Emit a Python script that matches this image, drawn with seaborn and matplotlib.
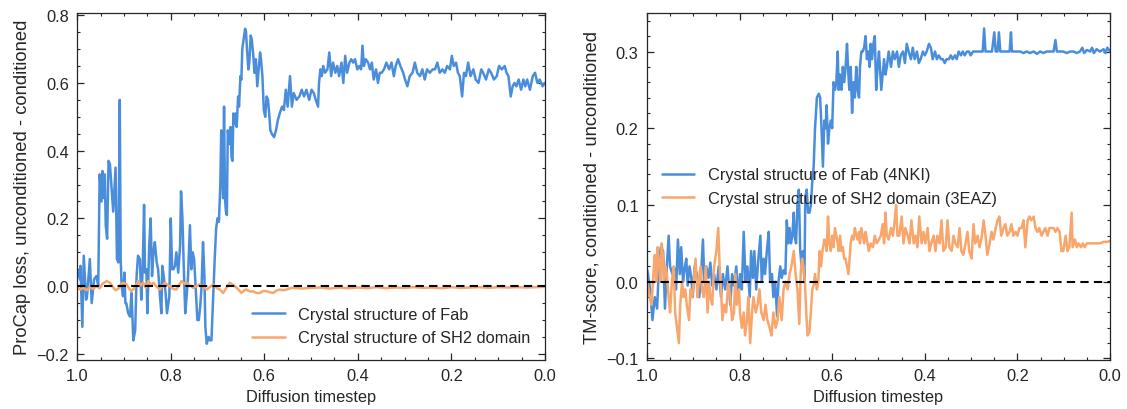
import matplotlib
matplotlib.use("Agg")
import matplotlib.pyplot as plt
import seaborn as sns
from matplotlib.ticker import MultipleLocator

# (diffusion timestep, value) pairs

# left panel: ProCap loss, unconditioned - conditioned
fab_loss = [
    (1.000, 0.05), (0.994, 0.02), (0.993, 0.06), (0.989, -0.12), (0.986, 0.09), (0.981, -0.04),
    (0.979, -0.03), (0.973, 0.08), (0.969, -0.05), (0.964, 0.02), (0.959, 0.03), (0.955, 0.0),
    (0.952, 0.33), (0.948, 0.25), (0.946, 0.34), (0.943, 0.26), (0.941, 0.33), (0.939, 0.18),
    (0.936, 0.14), (0.933, 0.37), (0.930, 0.36), (0.927, 0.30), (0.923, 0.22), (0.920, 0.30),
    (0.918, 0.35), (0.915, 0.08), (0.912, 0.07), (0.909, 0.55), (0.907, 0.08), (0.905, 0.0),
    (0.902, -0.03), (0.899, 0.04), (0.897, -0.05), (0.895, -0.05), (0.891, -0.08), (0.887, -0.09),
    (0.884, -0.02), (0.880, -0.16), (0.876, -0.13), (0.873, 0.03), (0.870, 0.09), (0.866, 0.08),
    (0.863, -0.04), (0.860, 0.05), (0.857, 0.24), (0.855, 0.04), (0.852, 0.05), (0.850, -0.08),
    (0.846, 0.12), (0.843, 0.20), (0.840, 0.03), (0.837, 0.10), (0.834, 0.13), (0.830, 0.07),
    (0.827, 0.05), (0.823, -0.03), (0.820, -0.08), (0.818, 0.06), (0.815, 0.03), (0.811, -0.02),
    (0.808, -0.08), (0.803, -0.03), (0.800, 0.20), (0.797, 0.05), (0.794, 0.05), (0.791, 0.06),
    (0.788, 0.10), (0.784, 0.04), (0.780, 0.12), (0.778, 0.28), (0.775, 0.20), (0.772, 0.05),
    (0.769, -0.08), (0.766, -0.03), (0.763, 0.03), (0.759, 0.18), (0.756, 0.05), (0.753, 0.10),
    (0.750, 0.08), (0.746, -0.02), (0.743, -0.10), (0.740, -0.10), (0.737, -0.06), (0.734, 0.0),
    (0.731, 0.13), (0.728, 0.03), (0.726, -0.12), (0.723, -0.17), (0.719, -0.15), (0.716, -0.16),
    (0.713, -0.16), (0.709, -0.02), (0.706, 0.08), (0.703, 0.17), (0.700, 0.20), (0.697, 0.19),
    (0.694, 0.30), (0.692, 0.46), (0.690, 0.34), (0.688, 0.26), (0.686, 0.53), (0.684, 0.26),
    (0.682, 0.22), (0.680, 0.21), (0.678, 0.46), (0.675, 0.42), (0.672, 0.47), (0.670, 0.38),
    (0.668, 0.37), (0.666, 0.51), (0.663, 0.48), (0.661, 0.51), (0.659, 0.47), (0.656, 0.56),
    (0.654, 0.53), (0.651, 0.62), (0.649, 0.61), (0.647, 0.70), (0.644, 0.73), (0.641, 0.76),
    (0.639, 0.75), (0.637, 0.70), (0.634, 0.64), (0.632, 0.66), (0.629, 0.74), (0.627, 0.73),
    (0.624, 0.69), (0.621, 0.63), (0.618, 0.67), (0.615, 0.59), (0.612, 0.64), (0.609, 0.69),
    (0.607, 0.67), (0.604, 0.62), (0.601, 0.52), (0.598, 0.50), (0.595, 0.56), (0.592, 0.55),
    (0.589, 0.50), (0.587, 0.46), (0.584, 0.45), (0.579, 0.44), (0.575, 0.46), (0.571, 0.49),
    (0.567, 0.51), (0.562, 0.53), (0.558, 0.52), (0.554, 0.58), (0.550, 0.53), (0.545, 0.62),
    (0.541, 0.53), (0.537, 0.57), (0.531, 0.55), (0.525, 0.56), (0.520, 0.58), (0.515, 0.56),
    (0.510, 0.58), (0.504, 0.55), (0.499, 0.58), (0.494, 0.57), (0.490, 0.55), (0.485, 0.53),
    (0.483, 0.60), (0.480, 0.64), (0.477, 0.62), (0.474, 0.65), (0.470, 0.63), (0.465, 0.64),
    (0.461, 0.69), (0.457, 0.62), (0.453, 0.66), (0.448, 0.63), (0.444, 0.65), (0.440, 0.62),
    (0.435, 0.66), (0.431, 0.60), (0.427, 0.68), (0.423, 0.63), (0.418, 0.66), (0.414, 0.67),
    (0.410, 0.66), (0.406, 0.67), (0.401, 0.64), (0.397, 0.65), (0.393, 0.64), (0.390, 0.71),
    (0.387, 0.65), (0.383, 0.67), (0.378, 0.66), (0.374, 0.64), (0.370, 0.66), (0.366, 0.61),
    (0.361, 0.64), (0.357, 0.60), (0.353, 0.63), (0.349, 0.63), (0.344, 0.64), (0.339, 0.66),
    (0.333, 0.64), (0.328, 0.66), (0.323, 0.62), (0.319, 0.65), (0.314, 0.67), (0.309, 0.65),
    (0.303, 0.63), (0.299, 0.61), (0.294, 0.59), (0.289, 0.62), (0.283, 0.63), (0.278, 0.66),
    (0.273, 0.63), (0.267, 0.62), (0.262, 0.64), (0.257, 0.61), (0.252, 0.64), (0.246, 0.63),
    (0.240, 0.64), (0.235, 0.64), (0.230, 0.66), (0.225, 0.63), (0.219, 0.64), (0.214, 0.63),
    (0.209, 0.65), (0.203, 0.64), (0.199, 0.68), (0.195, 0.65), (0.190, 0.66), (0.186, 0.63),
    (0.182, 0.62), (0.177, 0.56), (0.173, 0.63), (0.169, 0.62), (0.164, 0.66), (0.159, 0.62),
    (0.153, 0.64), (0.148, 0.61), (0.142, 0.60), (0.136, 0.64), (0.132, 0.63), (0.126, 0.61),
    (0.120, 0.64), (0.115, 0.63), (0.109, 0.61), (0.103, 0.62), (0.098, 0.65), (0.092, 0.64),
    (0.086, 0.65), (0.082, 0.63), (0.078, 0.62), (0.073, 0.56), (0.069, 0.59), (0.065, 0.60),
    (0.061, 0.59), (0.056, 0.61), (0.051, 0.58), (0.046, 0.61), (0.042, 0.59), (0.038, 0.61),
    (0.032, 0.58), (0.026, 0.62), (0.021, 0.63), (0.016, 0.60), (0.011, 0.61), (0.005, 0.59),
    (0.000, 0.60),
]

sh2_loss = [
    (1.000, -0.005), (0.994, -0.01), (0.987, -0.005), (0.980, -0.012), (0.973, -0.003),
    (0.966, -0.008), (0.959, 0.0), (0.952, -0.006), (0.945, 0.008), (0.937, 0.015), (0.930, 0.01),
    (0.923, -0.004), (0.918, -0.012), (0.912, -0.008), (0.907, 0.005), (0.902, 0.01),
    (0.895, 0.006), (0.890, -0.005), (0.884, -0.015), (0.877, -0.004), (0.870, 0.015),
    (0.864, 0.002), (0.859, 0.01), (0.853, -0.005), (0.848, 0.015), (0.842, 0.004), (0.837, 0.01),
    (0.830, -0.002), (0.823, -0.01), (0.818, 0.0), (0.813, 0.01), (0.807, 0.003), (0.802, 0.0),
    (0.795, -0.008), (0.788, -0.01), (0.782, 0.004), (0.777, 0.015), (0.771, 0.008), (0.766, 0.01),
    (0.759, 0.002), (0.752, -0.005), (0.745, 0.0), (0.738, 0.005), (0.730, -0.003), (0.723, -0.01),
    (0.716, -0.002), (0.709, 0.005), (0.702, -0.005), (0.695, -0.01), (0.688, -0.02),
    (0.681, -0.005), (0.674, 0.01), (0.667, 0.004), (0.659, -0.005), (0.654, -0.012),
    (0.649, -0.02), (0.643, -0.012), (0.638, -0.01), (0.631, -0.016), (0.624, -0.015),
    (0.617, -0.02), (0.609, -0.02), (0.602, -0.014), (0.595, -0.015), (0.588, -0.018),
    (0.581, -0.02), (0.574, -0.013), (0.567, -0.01), (0.560, -0.012), (0.552, -0.01),
    (0.545, -0.006), (0.538, -0.005), (0.520, -0.007), (0.502, -0.005), (0.480, -0.004),
    (0.460, -0.007), (0.440, -0.004), (0.420, -0.006), (0.400, -0.004), (0.380, -0.006),
    (0.360, -0.003), (0.340, -0.006), (0.320, -0.004), (0.300, -0.005), (0.280, -0.003),
    (0.260, -0.005), (0.240, -0.004), (0.220, -0.006), (0.200, -0.003), (0.180, -0.005),
    (0.160, -0.004), (0.140, -0.003), (0.120, -0.005), (0.100, -0.003), (0.080, -0.004),
    (0.060, -0.003), (0.040, -0.004), (0.020, -0.003), (0.000, -0.002),
]

# right panel: TM-score, conditioned - unconditioned
fab_tm = [
    (0.999, 0.015), (0.993, -0.01), (0.988, -0.05), (0.983, -0.02), (0.978, -0.035), (0.974, 0.02),
    (0.970, 0.045), (0.965, 0.04), (0.961, -0.035), (0.957, 0.02), (0.953, 0.06), (0.950, 0.02),
    (0.945, 0.01), (0.941, 0.018), (0.937, -0.01), (0.933, 0.055), (0.929, 0.01), (0.926, 0.045),
    (0.922, 0.0), (0.919, 0.015), (0.915, 0.03), (0.912, -0.005), (0.908, 0.02), (0.904, 0.005),
    (0.901, -0.02), (0.897, 0.02), (0.892, 0.01), (0.887, -0.02), (0.883, 0.01), (0.879, 0.055),
    (0.876, 0.0), (0.872, 0.02), (0.867, 0.005), (0.863, 0.025), (0.859, -0.005), (0.855, 0.01),
    (0.850, -0.01), (0.845, 0.02), (0.840, -0.02), (0.836, 0.01), (0.831, -0.01), (0.826, 0.02),
    (0.820, -0.03), (0.816, 0.01), (0.812, -0.005), (0.807, 0.02), (0.803, -0.025), (0.799, 0.01),
    (0.795, -0.01), (0.791, 0.065), (0.787, 0.0), (0.783, 0.02), (0.778, -0.02), (0.775, 0.04),
    (0.771, 0.005), (0.768, 0.04), (0.764, -0.01), (0.760, 0.025), (0.755, 0.06), (0.752, 0.0),
    (0.748, 0.03), (0.745, 0.01), (0.741, 0.04), (0.737, 0.065), (0.734, 0.0), (0.730, 0.01),
    (0.727, -0.02), (0.723, 0.0), (0.719, -0.045), (0.716, 0.0), (0.712, 0.02), (0.709, 0.005),
    (0.705, 0.015), (0.701, 0.01), (0.698, 0.08), (0.695, 0.05), (0.692, 0.07), (0.689, 0.05),
    (0.686, 0.06), (0.683, 0.09), (0.681, 0.06), (0.678, 0.05), (0.675, 0.10), (0.672, 0.12),
    (0.669, 0.04), (0.666, 0.02), (0.663, 0.04), (0.660, 0.0), (0.658, 0.11), (0.655, 0.12),
    (0.652, 0.09), (0.649, 0.09), (0.646, 0.10), (0.643, 0.13), (0.640, 0.15), (0.637, 0.20),
    (0.633, 0.24), (0.629, 0.245), (0.626, 0.24), (0.623, 0.20), (0.620, 0.15), (0.617, 0.21),
    (0.614, 0.20), (0.612, 0.23), (0.609, 0.18), (0.606, 0.20), (0.603, 0.21), (0.600, 0.20),
    (0.597, 0.26), (0.594, 0.25), (0.591, 0.26), (0.588, 0.30), (0.586, 0.25), (0.583, 0.27),
    (0.580, 0.25), (0.577, 0.28), (0.574, 0.26), (0.571, 0.28), (0.568, 0.31), (0.565, 0.27),
    (0.563, 0.25), (0.560, 0.28), (0.557, 0.22), (0.554, 0.26), (0.551, 0.24), (0.548, 0.28),
    (0.545, 0.25), (0.542, 0.24), (0.540, 0.28), (0.537, 0.30), (0.534, 0.30), (0.531, 0.305),
    (0.528, 0.32), (0.525, 0.29), (0.522, 0.30), (0.519, 0.28), (0.517, 0.31), (0.514, 0.29),
    (0.511, 0.31), (0.508, 0.32), (0.505, 0.25), (0.502, 0.28), (0.499, 0.30), (0.496, 0.27),
    (0.494, 0.25), (0.491, 0.27), (0.488, 0.29), (0.485, 0.27), (0.482, 0.28), (0.478, 0.30),
    (0.473, 0.28), (0.469, 0.30), (0.465, 0.29), (0.460, 0.30), (0.456, 0.28), (0.452, 0.295),
    (0.447, 0.30), (0.443, 0.285), (0.439, 0.31), (0.435, 0.30), (0.430, 0.29), (0.426, 0.305),
    (0.422, 0.29), (0.417, 0.30), (0.413, 0.285), (0.409, 0.29), (0.404, 0.30), (0.400, 0.295),
    (0.396, 0.30), (0.391, 0.31), (0.387, 0.305), (0.383, 0.29), (0.378, 0.30), (0.374, 0.29),
    (0.370, 0.295), (0.365, 0.29), (0.361, 0.29), (0.357, 0.285), (0.353, 0.29), (0.348, 0.29),
    (0.344, 0.295), (0.340, 0.29), (0.335, 0.295), (0.331, 0.29), (0.327, 0.30), (0.322, 0.295),
    (0.318, 0.30), (0.314, 0.295), (0.309, 0.30), (0.305, 0.30), (0.301, 0.295), (0.296, 0.30),
    (0.292, 0.30), (0.288, 0.30), (0.283, 0.30), (0.279, 0.30), (0.275, 0.30), (0.272, 0.33),
    (0.269, 0.30), (0.266, 0.30), (0.263, 0.30), (0.259, 0.30), (0.255, 0.30), (0.250, 0.325),
    (0.247, 0.30), (0.243, 0.30), (0.240, 0.325), (0.237, 0.30), (0.230, 0.30), (0.223, 0.30),
    (0.217, 0.30), (0.214, 0.325), (0.212, 0.30), (0.201, 0.30), (0.194, 0.30), (0.187, 0.298),
    (0.180, 0.30), (0.173, 0.298), (0.165, 0.30), (0.158, 0.297), (0.151, 0.30), (0.144, 0.298),
    (0.137, 0.30), (0.129, 0.30), (0.122, 0.30), (0.118, 0.315), (0.115, 0.30), (0.108, 0.30),
    (0.101, 0.30), (0.094, 0.298), (0.086, 0.30), (0.079, 0.30), (0.072, 0.298), (0.065, 0.30),
    (0.060, 0.305), (0.056, 0.298), (0.050, 0.302), (0.043, 0.30), (0.039, 0.305), (0.035, 0.298),
    (0.029, 0.303), (0.022, 0.30), (0.014, 0.303), (0.010, 0.298), (0.006, 0.305), (0.000, 0.30),
]

sh2_tm = [
    (0.999, 0.0), (0.994, -0.02), (0.990, -0.03), (0.986, 0.01), (0.983, 0.035), (0.980, 0.0),
    (0.977, 0.045), (0.974, 0.025), (0.971, 0.0), (0.968, 0.05), (0.965, 0.03), (0.963, 0.0),
    (0.960, 0.02), (0.957, 0.01), (0.953, -0.02), (0.950, -0.04), (0.946, 0.0), (0.942, 0.02),
    (0.939, -0.04), (0.935, -0.06), (0.931, -0.08), (0.928, -0.03), (0.924, 0.0), (0.921, -0.02),
    (0.917, -0.01), (0.914, -0.03), (0.909, -0.05), (0.906, -0.01), (0.902, -0.02), (0.899, 0.0),
    (0.895, 0.03), (0.891, -0.02), (0.888, 0.0), (0.884, 0.02), (0.881, -0.01), (0.877, -0.02),
    (0.873, 0.02), (0.869, -0.04), (0.866, 0.0), (0.863, -0.02), (0.859, -0.03), (0.855, 0.02),
    (0.850, 0.04), (0.846, 0.07), (0.843, 0.02), (0.840, -0.01), (0.837, -0.05), (0.833, -0.03),
    (0.829, -0.04), (0.824, 0.0), (0.820, -0.02), (0.816, -0.05), (0.812, -0.04), (0.809, 0.01),
    (0.806, -0.03), (0.801, -0.01), (0.799, -0.04), (0.795, -0.06), (0.791, -0.04), (0.788, -0.07),
    (0.784, -0.05), (0.781, -0.02), (0.777, -0.08), (0.773, -0.04), (0.770, -0.02), (0.765, -0.04),
    (0.761, -0.03), (0.757, -0.01), (0.753, -0.04), (0.748, -0.05), (0.744, -0.03), (0.740, -0.05),
    (0.735, -0.06), (0.731, -0.07), (0.727, -0.04), (0.722, -0.06), (0.718, -0.05), (0.714, -0.02),
    (0.709, -0.05), (0.705, -0.01), (0.701, 0.0), (0.696, -0.01), (0.692, 0.01), (0.688, 0.02),
    (0.683, 0.04), (0.679, 0.01), (0.675, -0.01), (0.671, -0.055), (0.668, 0.01), (0.665, 0.03),
    (0.662, 0.02), (0.659, 0.0), (0.656, -0.04), (0.653, -0.07), (0.649, -0.065), (0.646, -0.04),
    (0.643, -0.01), (0.640, -0.005), (0.637, 0.01), (0.633, -0.01), (0.630, 0.0), (0.627, 0.04),
    (0.624, 0.02), (0.621, 0.04), (0.617, 0.055), (0.614, 0.05), (0.612, 0.04), (0.609, 0.085),
    (0.606, 0.05), (0.603, 0.04), (0.600, 0.06), (0.597, 0.045), (0.594, 0.07), (0.591, 0.06),
    (0.588, 0.05), (0.586, 0.04), (0.583, 0.06), (0.580, 0.04), (0.577, 0.045), (0.574, 0.03),
    (0.571, 0.03), (0.568, 0.02), (0.565, 0.01), (0.563, 0.025), (0.560, 0.05), (0.557, 0.06),
    (0.554, 0.055), (0.551, 0.07), (0.548, 0.06), (0.545, 0.055), (0.542, 0.065), (0.540, 0.05),
    (0.537, 0.07), (0.534, 0.06), (0.531, 0.05), (0.528, 0.065), (0.525, 0.055), (0.521, 0.04),
    (0.517, 0.05), (0.512, 0.045), (0.508, 0.06), (0.504, 0.05), (0.499, 0.055), (0.495, 0.06),
    (0.491, 0.075), (0.488, 0.05), (0.485, 0.09), (0.482, 0.06), (0.478, 0.055), (0.473, 0.07),
    (0.469, 0.06), (0.465, 0.08), (0.462, 0.10), (0.459, 0.06), (0.455, 0.06), (0.450, 0.085),
    (0.446, 0.05), (0.442, 0.07), (0.437, 0.06), (0.433, 0.05), (0.429, 0.08), (0.424, 0.05),
    (0.420, 0.06), (0.416, 0.045), (0.412, 0.085), (0.407, 0.05), (0.403, 0.065), (0.399, 0.05),
    (0.394, 0.07), (0.390, 0.04), (0.386, 0.05), (0.381, 0.06), (0.377, 0.04), (0.373, 0.06),
    (0.368, 0.05), (0.364, 0.08), (0.360, 0.04), (0.355, 0.045), (0.351, 0.08), (0.347, 0.045),
    (0.342, 0.04), (0.338, 0.06), (0.334, 0.05), (0.329, 0.045), (0.325, 0.07), (0.321, 0.04),
    (0.317, 0.035), (0.312, 0.05), (0.308, 0.065), (0.304, 0.04), (0.299, 0.03), (0.295, 0.075),
    (0.291, 0.05), (0.286, 0.06), (0.282, 0.045), (0.278, 0.055), (0.273, 0.08), (0.269, 0.06),
    (0.265, 0.035), (0.260, 0.05), (0.256, 0.065), (0.252, 0.055), (0.247, 0.07), (0.243, 0.08),
    (0.239, 0.085), (0.235, 0.06), (0.230, 0.07), (0.226, 0.075), (0.222, 0.06), (0.217, 0.065),
    (0.213, 0.075), (0.209, 0.06), (0.204, 0.065), (0.200, 0.06), (0.196, 0.07), (0.191, 0.07),
    (0.187, 0.08), (0.183, 0.045), (0.178, 0.08), (0.174, 0.085), (0.170, 0.08), (0.165, 0.085),
    (0.161, 0.07), (0.157, 0.065), (0.153, 0.07), (0.148, 0.06), (0.144, 0.065), (0.140, 0.07),
    (0.135, 0.06), (0.131, 0.07), (0.127, 0.07), (0.122, 0.07), (0.118, 0.065), (0.114, 0.07),
    (0.109, 0.065), (0.105, 0.04), (0.101, 0.04), (0.096, 0.06), (0.092, 0.04), (0.088, 0.045),
    (0.083, 0.09), (0.081, 0.045), (0.076, 0.055), (0.072, 0.045), (0.068, 0.05), (0.063, 0.045),
    (0.059, 0.05), (0.055, 0.045), (0.050, 0.05), (0.043, 0.05), (0.036, 0.05), (0.029, 0.05),
    (0.022, 0.05), (0.014, 0.052), (0.007, 0.052), (0.000, 0.053),
]

blue = "#4a8edb"
orange = "#f8a66b"
fs = 11.8

sns.set_style("ticks")
plt.rcParams["font.family"] = ["Liberation Sans", "DejaVu Sans"]
plt.rcParams["font.size"] = fs

fig = plt.figure(figsize=(11.27, 4.10), dpi=100)
ax1 = fig.add_axes([0.0685, 0.1195, 0.415, 0.846])
ax2 = fig.add_axes([0.574, 0.1195, 0.411, 0.846])


def draw(ax, series, labels):
    for data, color, label in zip(series, [blue, orange], labels):
        t, v = zip(*data)
        sns.lineplot(x=list(t), y=list(v), ax=ax, color=color, lw=1.8,
                     label=label, sort=False, estimator=None)
    ax.axhline(0, color="black", ls="--", lw=1.5, dashes=(4, 2.5), zorder=3)
    ax.set_xlim(1.0, 0.0)
    ax.set_xlabel("Diffusion timestep", fontsize=fs)
    ax.xaxis.set_major_locator(MultipleLocator(0.2))
    ax.xaxis.set_minor_locator(MultipleLocator(0.05))
    ax.tick_params(which="both", direction="in", top=True, right=True, labelsize=fs, pad=6)
    ax.tick_params(which="major", length=5, width=0.9)
    ax.tick_params(which="minor", length=2.5, width=0.8)
    for s in ax.spines.values():
        s.set_linewidth(0.9)


draw(ax1, [fab_loss, sh2_loss], ["Crystal structure of Fab", "Crystal structure of SH2 domain"])
ax1.set_ylim(-0.218, 0.806)
ax1.yaxis.set_major_locator(MultipleLocator(0.2))
ax1.yaxis.set_minor_locator(MultipleLocator(0.05))
ax1.set_ylabel("ProCap loss, unconditioned - conditioned", fontsize=13.2)
ax1.legend(loc="lower right", frameon=False, fontsize=fs)

draw(ax2, [fab_tm, sh2_tm], ["Crystal structure of Fab (4NKI)", "Crystal structure of SH2 domain (3EAZ)"])
ax2.set_ylim(-0.102, 0.350)
ax2.yaxis.set_major_locator(MultipleLocator(0.1))
ax2.yaxis.set_minor_locator(MultipleLocator(0.02))
ax2.set_ylabel("TM-score, conditioned - unconditioned", fontsize=13.2)
ax2.legend(loc="center left", frameon=False, fontsize=fs)

fig.savefig("out.png", dpi=100)
